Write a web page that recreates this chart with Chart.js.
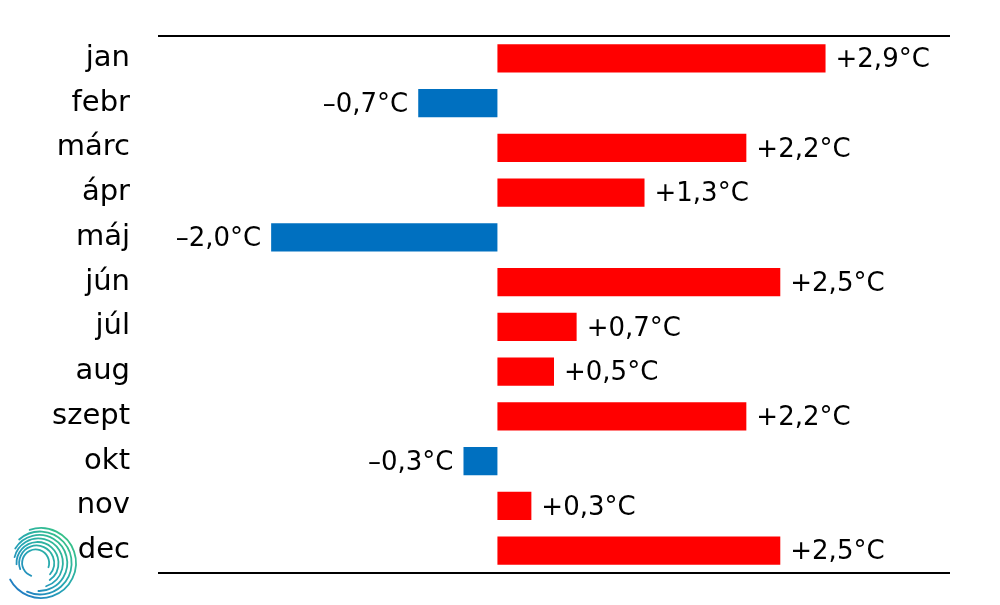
<!DOCTYPE html>
<html>
<head>
<meta charset="utf-8">
<script src="https://cdn.jsdelivr.net/npm/chart.js@4/dist/chart.umd.min.js"></script>
<style>
html,body{margin:0;padding:0;background:#fff;}
#wrap{width:1000px;height:605px;position:relative;}
</style>
</head>
<body>
<div id="wrap"><canvas id="c" width="1000" height="605"></canvas></div>
<script>
const months = ["jan","febr","márc","ápr","máj","jún","júl","aug","szept","okt","nov","dec"];
const anomalies = [2.9,-0.7,2.2,1.3,-2.0,2.5,0.7,0.5,2.2,-0.3,0.3,2.5];
const xMin = -3;
const xMax = 4;
const posColor = "#FF0000";
const negColor = "#0070C0";

function fmt(v){
  const s = Math.abs(v).toFixed(1).replace(".", ",");
  return (v < 0 ? "\u2013" : "+") + s + "°C";
}

const labelPlugin = {
  id: "valueLabels",
  afterDatasetsDraw(chart){
    const ctx = chart.ctx;
    const meta = chart.getDatasetMeta(0);
    ctx.save();
    ctx.font = "26px 'DejaVu Sans'";
    ctx.fillStyle = "#000";
    ctx.textBaseline = "middle";
    meta.data.forEach((bar, i) => {
      const v = anomalies[i];
      const t = fmt(v);
      if (v >= 0){ ctx.textAlign = "left"; ctx.fillText(t, bar.x + 10, bar.y + 2); }
      else { ctx.textAlign = "right"; ctx.fillText(t, bar.x - 10, bar.y + 2); }
    });
    ctx.restore();
  }
};

const framePlugin = {
  id: "frame",
  afterDraw(chart){
    const {ctx, chartArea:a} = chart;
    ctx.save();
    ctx.strokeStyle = "#000";
    ctx.lineWidth = 2;
    ctx.beginPath();
    ctx.moveTo(a.left, a.top); ctx.lineTo(a.right, a.top);
    ctx.moveTo(a.left, a.bottom); ctx.lineTo(a.right, a.bottom);
    ctx.stroke();
    // logo (decorative)
    const cx = 41, cy = 563;
    const g = ctx.createLinearGradient(cx-35, cy+35, cx+35, cy-35);
    g.addColorStop(0, "#1f6fc8");
    g.addColorStop(0.5, "#27a6b4");
    g.addColorStop(1, "#3ccb78");
    ctx.strokeStyle = g;
    ctx.lineWidth = 1.8;
    ctx.lineCap = "round";
    const rings = [
      [35, -1.9, 2.65],
      [31.5, -2.3, 2.0],
      [28, -2.6, 1.6],
      [24.5, -2.9, 1.25],
      [21, -3.2, 0.95],
      [17.5, -3.5, 0.7],
      [13.5, 1.9, 6.6]
    ];
    rings.forEach(r => {
      ctx.beginPath();
      ctx.arc(cx - (35 - r[0]) * 0.25, cy, r[0], r[1], r[2]);
      ctx.stroke();
    });
    ctx.restore();
  }
};

new Chart(document.getElementById("c"), {
  type: "bar",
  data: {
    labels: months,
    datasets: [{
      data: anomalies,
      backgroundColor: anomalies.map(v => v < 0 ? negColor : posColor),
      borderWidth: 0,
      categoryPercentage: 1.0,
      barPercentage: 0.63
    }]
  },
  options: {
    indexAxis: "y",
    responsive: false,
    animation: false,
    layout: { autoPadding: false, padding: { top: 36, bottom: 32, right: 50, left: 0 } },
    plugins: { legend: { display: false }, tooltip: { enabled: false } },
    scales: {
      x: {
        min: xMin, max: xMax,
        display: false
      },
      y: {
        grid: { display: false, drawTicks: false },
        border: { display: false },
        ticks: {
          color: "#000",
          font: { family: "'DejaVu Sans'", size: 29 },
          padding: 28
        },
        afterFit(scale){ scale.width = 158; scale.paddingTop = 0; scale.paddingBottom = 0; }
      }
    }
  },
  plugins: [labelPlugin, framePlugin]
});
</script>
</body>
</html>
